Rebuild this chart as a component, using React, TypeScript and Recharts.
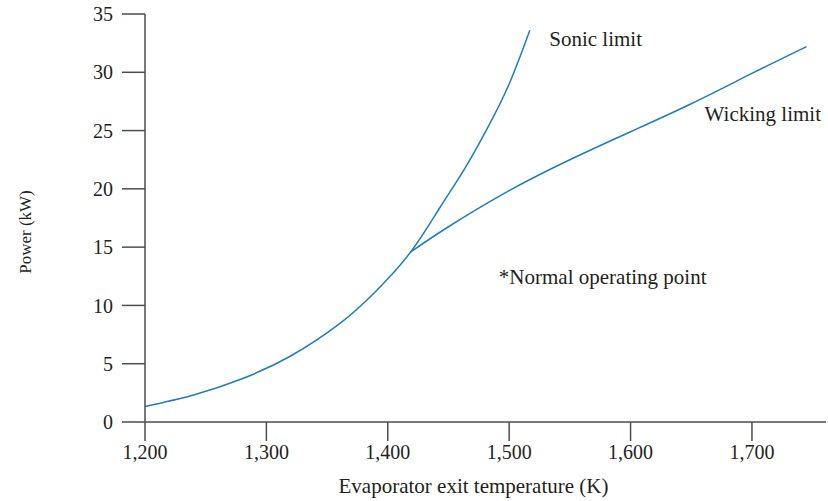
import { LineChart, Line, XAxis, YAxis, ReferenceDot } from 'recharts';

// common part of the curve (1200 K up to the operating point)
const baseTemp = [1200, 1240, 1280, 1320, 1360, 1390, 1419];
const basePower = [1.33, 2.32, 3.71, 5.66, 8.41, 11.2, 14.6];

const sonicTemp = [1443, 1462, 1481, 1500, 1517];
const sonicPower = [18.4, 21.5, 25.0, 29.0, 33.6];

const wickTemp = [1419, 1450, 1500, 1550, 1600, 1650, 1700, 1745];
const wickPower = [14.6, 16.75, 19.85, 22.5, 24.9, 27.3, 29.9, 32.2];

const xTicks = [1200, 1300, 1400, 1500, 1600, 1700];
const yTicks = [0, 5, 10, 15, 20, 25, 30, 35];

const notes = [
  { text: 'Sonic limit', t: 1533, p: 32.9 },
  { text: 'Wicking limit', t: 1661, p: 26.5 },
  { text: '*Normal operating point', t: 1491.5, p: 12.45 },
];

const sonicData = [...baseTemp, ...sonicTemp].map((t, i) => ({
  t,
  p: [...basePower, ...sonicPower][i],
}));
const wickData = wickTemp.map((t, i) => ({ t, p: wickPower[i] }));

const FONT = '"Liberation Serif", "DejaVu Serif", serif';
const TEXT = '#231f20';
const AXIS = '#4d4d4d';
const BLUE = '#1f7bc2';

const fmt = (v: number) => v.toLocaleString('en-US');

export default function App() {
  return (
    <div style={{ position: 'absolute', left: 0, top: 0, background: '#fff' }}>
      <LineChart width={828} height={501} margin={{ top: 14, right: 2, left: 0, bottom: 0 }}>
        <XAxis
          type="number"
          dataKey="t"
          domain={[1200, 1761]}
          ticks={xTicks}
          allowDataOverflow
          tickFormatter={fmt}
          height={79}
          tickSize={19}
          tickMargin={4}
          stroke={AXIS}
          strokeWidth={1.5}
          tick={{ fill: TEXT, fontSize: 20, fontFamily: FONT }}
          label={{
            value: 'Evaporator exit temperature (K)',
            position: 'insideBottom',
            offset: 8,
            dx: -12,
            fill: TEXT,
            fontSize: 21,
            fontFamily: FONT,
          }}
        />
        <YAxis
          type="number"
          domain={[0, 35]}
          ticks={yTicks}
          width={145}
          tickSize={23}
          tickMargin={9}
          stroke={AXIS}
          strokeWidth={1.5}
          tick={{ fill: TEXT, fontSize: 20, fontFamily: FONT }}
          label={{
            content: (props: any) => {
              const vb = props.viewBox;
              const cx = vb.x + 25;
              const cy = vb.y + vb.height / 2 + 14;
              return (
                <text
                  x={cx}
                  y={cy}
                  transform={`rotate(-90 ${cx} ${cy})`}
                  textAnchor="middle"
                  dominantBaseline="central"
                  fill={TEXT}
                  fontSize={17}
                  fontFamily={FONT}
                >
                  Power (kW)
                </text>
              );
            },
          }}
        />
        <Line
          data={sonicData}
          dataKey="p"
          type="natural"
          stroke={BLUE}
          strokeWidth={1.5}
          dot={false}
          isAnimationActive={false}
        />
        <Line
          data={wickData}
          dataKey="p"
          type="natural"
          stroke={BLUE}
          strokeWidth={1.5}
          dot={false}
          isAnimationActive={false}
        />
        {notes.map((n) => (
          <ReferenceDot
            key={n.text}
            x={n.t}
            y={n.p}
            r={0}
            ifOverflow="visible"
            label={{
              value: n.text,
              position: 'right',
              offset: 0,
              fill: TEXT,
              fontSize: 21,
              fontFamily: FONT,
            }}
          />
        ))}
      </LineChart>
    </div>
  );
}
